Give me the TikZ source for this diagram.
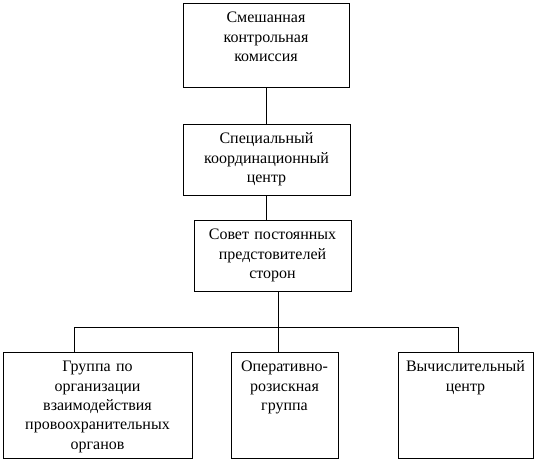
\documentclass[tikz,border=0pt]{standalone}
\usepackage{fontspec}
\setmainfont{Liberation Serif}
\usetikzlibrary{calc}
\begin{document}
\begin{tikzpicture}[x=0.75pt,y=-0.75pt, line width=0.6pt,
  every node/.style={font=\fontsize{12}{14.5}\selectfont},
  orgbox/.style 2 args={draw, inner sep=0pt, align=center, anchor=north,
    text height=14.5pt, text width=#1, text depth=#2}]
  \useasboundingbox (0,0) rectangle (546,462);
  \node[orgbox={124.5pt}{48.5pt}] (mixed) at (266,3) {Смешанная\\контрольная\\комиссия};
  \node[orgbox={125.25pt}{38.75pt}] (coord) at (266.5,124) {Специальный\\координационный\\центр};
  \node[orgbox={117.75pt}{38.75pt}] (council) at (272.5,220) {Совет постоянных\\предстовителей\\сторон};
  \node[orgbox={141.75pt}{65pt}] (lawgroup) at (97.5,352) {Группа по\\организации\\взаимодействия\\провоохранительных\\органов};
  \node[orgbox={80.25pt}{65pt}] (opgroup) at (284.5,352) {Оперативно-\\розискная\\группа};
  \node[orgbox={101.25pt}{65pt}] (compcenter) at (465.5,352) {Вычислительный\\центр};
  \coordinate (busL) at (74,327);
  \coordinate (bus) at (278,327);
  \coordinate (busR) at (458,327);
  \draw (mixed.south) -- (mixed.south |- coord.north);
  \draw (coord.south) -- (coord.south |- council.north);
  \draw (bus |- council.south) -- (bus);
  \draw (busL |- lawgroup.north) -- (busL) -- (busR) -- (busR |- compcenter.north);
  \draw (bus) -- (bus |- opgroup.north);
\end{tikzpicture}
\end{document}
